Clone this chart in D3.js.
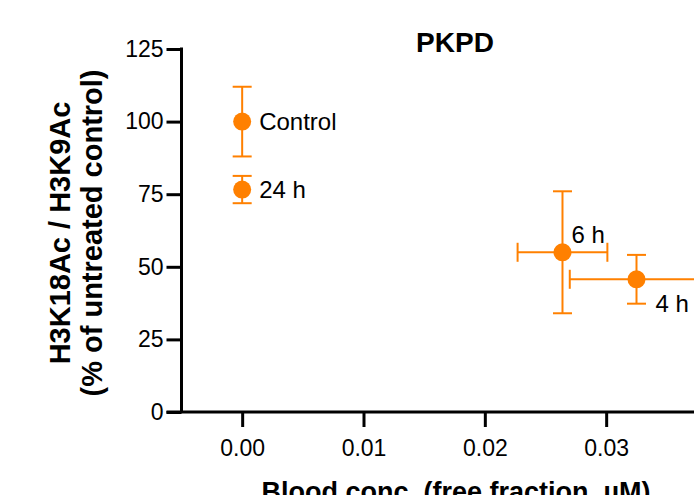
<!DOCTYPE html>
<html>
<head>
<meta charset="utf-8">
<script src="https://cdn.jsdelivr.net/npm/d3@7"></script>
<style>
  html, body { margin: 0; padding: 0; background: #fff; }
  svg { display: block; font-family: "Liberation Sans", Arial, sans-serif; }
</style>
</head>
<body>
<svg id="chart" width="694" height="495"></svg>
<script>
// Time points after dosing
const labels = ["Control", "24 h", "6 h", "4 h"];
// Blood concentration (free fraction, µM): mean and SD
const conc = [0, 0, 0.0264, 0.0325];
const concErr = [0, 0, 0.0037, 0.0055];
// H3K18Ac / H3K9Ac, % of untreated control: mean and SD
const ratio = [100, 76.6, 55, 45.7];
const ratioErr = [12, 4.7, 21, 8.4];
// Where each label sits relative to its point
const labelSide = ["right", "right", "upright", "downright"];

const xTicks = [0, 0.01, 0.02, 0.03];
const yTicks = [0, 25, 50, 75, 100, 125];

const svg = d3.select("#chart");
const orange = "#FF8000";

const x = d3.scaleLinear().domain([-0.005, 0.04]).range([181.5, 727.5]);
const y = d3.scaleLinear().domain([0, 125]).range([412, 49]);

// Axes
const yAxis = d3.axisLeft(y).tickValues(yTicks).tickSize(15).tickPadding(3).tickFormat(d3.format("d"));
const xAxis = d3.axisBottom(x).tickValues(xTicks).tickSize(15).tickPadding(13).tickFormat(d3.format(".2f"));

const gx = svg.append("g").attr("transform", `translate(0,${y(0)})`).call(xAxis);
gx.select(".domain").attr("d", `M${x.range()[0] - 15},0H${x.range()[1]}`);
const gy = svg.append("g").attr("transform", `translate(${x(-0.005)},0)`).call(yAxis);
gy.select(".domain").attr("d", `M0,${y(125) - 1.5}V${y(0)}`);

[gx, gy].forEach(g => {
  g.selectAll(".domain").attr("stroke", "#000").attr("stroke-width", 3).attr("fill", "none");
  g.selectAll(".tick line").attr("stroke", "#000").attr("stroke-width", 3);
  g.selectAll(".tick text").attr("fill", "#000").style("font-size", "23px");
});

// Error bars
const cap = 9.5;
const pts = svg.append("g");
labels.forEach((lab, i) => {
  const cx = x(conc[i]), cy = y(ratio[i]);
  const g = pts.append("g").attr("stroke", orange).attr("stroke-width", 2).attr("fill", "none");
  if (ratioErr[i] > 0) {
    const y1 = y(ratio[i] + ratioErr[i]), y2 = y(ratio[i] - ratioErr[i]);
    g.append("line").attr("x1", cx).attr("x2", cx).attr("y1", y1).attr("y2", y2);
    g.append("line").attr("x1", cx - cap).attr("x2", cx + cap).attr("y1", y1).attr("y2", y1);
    g.append("line").attr("x1", cx - cap).attr("x2", cx + cap).attr("y1", y2).attr("y2", y2);
  }
  if (concErr[i] > 0) {
    const x1 = x(conc[i] - concErr[i]), x2 = x(conc[i] + concErr[i]);
    g.append("line").attr("x1", x1).attr("x2", x2).attr("y1", cy).attr("y2", cy);
    g.append("line").attr("x1", x1).attr("x2", x1).attr("y1", cy - cap).attr("y2", cy + cap);
    g.append("line").attr("x1", x2).attr("x2", x2).attr("y1", cy - cap).attr("y2", cy + cap);
  }
});

// Points
pts.selectAll("circle").data(labels).join("circle")
  .attr("cx", (d, i) => x(conc[i]))
  .attr("cy", (d, i) => y(ratio[i]))
  .attr("r", 9)
  .attr("fill", orange);

// Point labels
const offsets = {
  right: [17, 0],
  upright: [9, -18],
  downright: [19, 24]
};
svg.append("g").selectAll("text").data(labels).join("text")
  .attr("x", (d, i) => x(conc[i]) + offsets[labelSide[i]][0])
  .attr("y", (d, i) => y(ratio[i]) + offsets[labelSide[i]][1])
  .attr("dy", "0.35em")
  .style("font-size", "24px")
  .attr("fill", "#000")
  .text(d => d);

// Title
svg.append("text")
  .attr("x", 455).attr("y", 52)
  .attr("text-anchor", "middle")
  .style("font-size", "28px").style("font-weight", "bold")
  .text("PKPD");

// Y axis title (two lines)
const yt = svg.append("text")
  .attr("transform", "translate(0,233) rotate(-90)")
  .attr("text-anchor", "middle")
  .style("font-size", "29px").style("font-weight", "bold");
yt.append("tspan").attr("x", 0).attr("y", 70).text("H3K18Ac / H3K9Ac");
yt.append("tspan").attr("x", 0).attr("y", 102).text("(% of untreated control)");

// X axis title
svg.append("text")
  .attr("x", 456).attr("y", 501)
  .attr("text-anchor", "middle")
  .style("font-size", "27px").style("font-weight", "bold")
  .text("Blood conc. (free fraction, µM)");
</script>
</body>
</html>
